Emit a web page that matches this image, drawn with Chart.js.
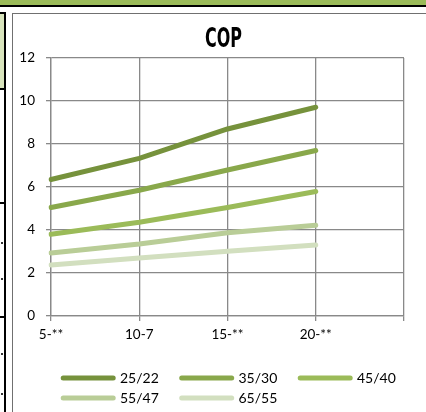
<!DOCTYPE html>
<html>
<head>
<meta charset="utf-8">
<script src="https://cdn.jsdelivr.net/npm/chart.js@4/dist/chart.umd.min.js"></script>
<style>
html, body { margin: 0; padding: 0; width: 426px; height: 412px; overflow: hidden; background: #fff; }
body { position: relative; }
.banda { position: absolute; left: 0; top: 0; width: 426px; height: 5px; background: #9bbb59; }
.bandaNegra { position: absolute; left: 0; top: 5px; width: 426px; height: 2px; background: #000; }
.celda { position: absolute; left: 0; top: 13px; width: 4px; height: 76px; background: #d8e4bc; }
.lineaV { position: absolute; left: 4px; top: 13px; width: 2px; height: 399px; background: #000; }
.marca { position: absolute; left: 0; width: 6px; height: 2px; background: #000; }
.punto { position: absolute; left: 1px; width: 2px; height: 2px; background: #333; }
.marco { position: absolute; left: 12px; top: 13px; width: 414px; height: 399px; border-left: 1px solid #707070; border-top: 1px solid #707070; }
#caja { position: absolute; left: 13px; top: 14px; width: 413px; height: 398px; overflow: hidden; }
</style>
</head>
<body>
<div class="banda"></div>
<div class="bandaNegra"></div>
<div class="celda"></div>
<div class="lineaV"></div>
<div class="marca" style="top:12px"></div>
<div class="marca" style="top:88px"></div>
<div class="marca" style="top:202px"></div>
<div class="marca" style="top:316px"></div>
<div class="punto" style="top:242px"></div>
<div class="punto" style="top:278px"></div>
<div class="punto" style="top:353px"></div>
<div class="punto" style="top:393px"></div>
<div class="marco"></div>
<div id="caja"><canvas id="cop" width="421" height="398"></canvas></div>
<script>
const categorias = ['5-**', '10-7', '15-**', '20-**', ''];
const nombres = ['25/22', '35/30', '45/40', '55/47', '65/55'];
const serie2522 = [6.35, 7.33, 8.70, 9.71];
const serie3530 = [5.05, 5.85, 6.79, 7.70];
const serie4540 = [3.80, 4.36, 5.05, 5.79];
const serie5547 = [2.93, 3.35, 3.87, 4.22];
const serie6555 = [2.37, 2.70, 3.01, 3.30];
const colores = ['#76923c', '#89a84b', '#9bbb59', '#b9cd97', '#d2dfbf'];
const titulo = 'COP';
const ejeY = { min: 0, max: 12, paso: 2 };

const series = [serie2522, serie3530, serie4540, serie5547, serie6555];
const gris = '#898989';

// titulo estrecho tipo Excel (no hay fuente condensada, se aprieta a mano)
const tituloEstrecho = {
    id: 'tituloEstrecho',
    afterDraw(chart) {
        const c = chart.ctx;
        c.save();
        c.font = "bold 26px 'DejaVu Sans'";
        c.textAlign = 'center';
        c.textBaseline = 'alphabetic';
        const ancho = c.measureText(titulo).width;
        const escala = 37 / ancho;
        c.translate(chart.width / 2, 33);
        c.scale(escala, 1);
        c.fillStyle = '#000';
        c.fillText(titulo, 0, 0);
        c.restore();
    }
};

// leyenda a mano, las filas de Excel van alineadas a la izquierda
const leyendaExcel = {
    id: 'leyendaExcel',
    afterDraw(chart) {
        const c = chart.ctx;
        const area = chart.chartArea;
        c.save();
        c.font = '14px Lato';
        c.textBaseline = 'middle';
        c.textAlign = 'left';
        chart.data.datasets.forEach((ds, i) => {
            const x = area.left + 9.7 + (i % 3) * 118.5;
            const y = area.bottom + 62 + Math.floor(i / 3) * 20;
            c.strokeStyle = ds.borderColor;
            c.lineWidth = 5;
            c.lineCap = 'round';
            c.beginPath();
            c.moveTo(x + 2.5, y);
            c.lineTo(x + 52.5, y);
            c.stroke();
            c.fillStyle = '#000';
            c.fillText(ds.label, x + 59.3, y + 0.5);
        });
        c.restore();
    }
};

new Chart(document.getElementById('cop'), {
    type: 'line',
    data: {
        labels: categorias,
        datasets: series.map((s, i) => ({
            label: nombres[i],
            data: s,
            borderColor: colores[i],
            backgroundColor: colores[i],
            borderWidth: 5,
            borderCapStyle: 'round',
            borderJoinStyle: 'round',
            pointRadius: 0,
            tension: 0,
            fill: false
        }))
    },
    options: {
        responsive: false,
        animation: false,
        layout: { padding: { left: 0, right: 30, top: 44, bottom: 66 } },
        plugins: {
            legend: { display: false },
            tooltip: { enabled: false },
            title: { display: false }
        },
        scales: {
            x: {
                offset: false,
                afterFit: s => { s.height = 30; },
                grid: { color: gris, lineWidth: 1.3, tickLength: 5, tickColor: gris },
                border: { color: gris, width: 1.3 },
                ticks: { color: '#000', font: { family: 'Lato', size: 13.5 }, padding: 6, maxRotation: 0, autoSkip: false }
            },
            y: {
                min: ejeY.min,
                max: ejeY.max,
                afterFit: s => { s.width = 38; },
                grid: { color: gris, lineWidth: 1.3, tickLength: 5, tickColor: gris },
                border: { color: gris, width: 1.3 },
                ticks: { stepSize: ejeY.paso, color: '#000', font: { family: 'Lato', size: 13.5 }, padding: 11 }
            }
        }
    },
    plugins: [tituloEstrecho, leyendaExcel]
});
</script>
</body>
</html>
